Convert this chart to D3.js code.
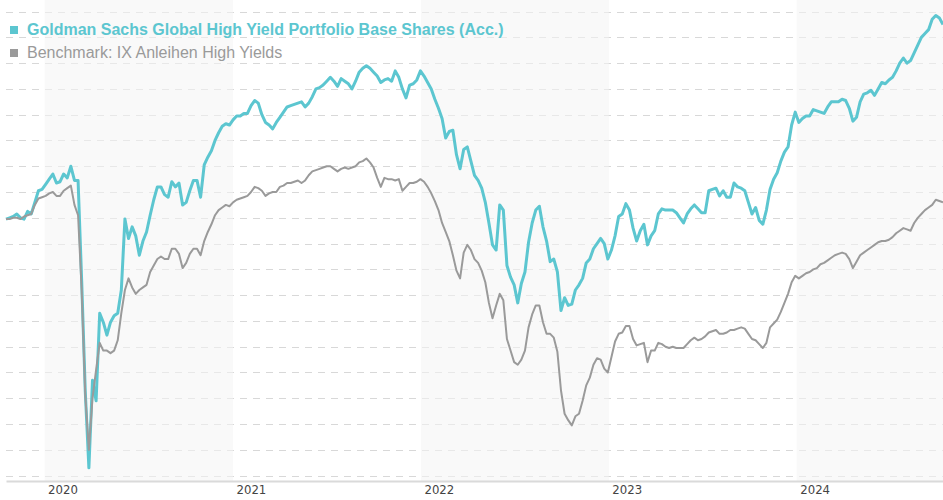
<!DOCTYPE html>
<html>
<head>
<meta charset="utf-8">
<script src="https://cdn.jsdelivr.net/npm/d3@7"></script>
<style>
  html, body { margin: 0; padding: 0; background: #fff; }
  svg { display: block; }
  .year-axis text { font-family: "DejaVu Sans Condensed", "DejaVu Sans", sans-serif; font-stretch: condensed; font-size: 13px; fill: #444; }
  .legend-text { font-family: "Liberation Sans", Arial, sans-serif; font-size: 16px; }
</style>
</head>
<body>
<svg id="chart"></svg>
<script>
// Weekly index values (Fridays), start = 100
const seriesNames = [
  'Goldman Sachs Global High Yield Portfolio Base Shares (Acc.)',
  'Benchmark: IX Anleihen High Yields'
];
const seriesColors = ['#5cc6d0', '#9a9a9a'];
const firstDate = '2019-10-18';
const lastDate = '2024-10-11';

const fundValues = [
  99.9, 100.0, 100.1, 100.3, 100.0, 99.9, 100.5, 100.3, 101.2, 102.1,
  102.2, 102.6, 103.0, 103.4, 102.7, 102.8, 103.4, 103.1, 104.0, 102.9,
  102.9, 95.1, 86.5, 80.6, 87.4, 85.8, 92.6, 91.9, 90.9, 91.9,
  92.4, 92.6, 94.4, 99.9, 98.4, 99.3, 98.6, 97.1, 98.2, 98.9,
  100.2, 101.4, 102.4, 102.4, 101.8, 101.6, 102.8, 102.4, 102.7, 101.0,
  101.2, 102.1, 102.9, 102.9, 101.6, 104.1, 104.7, 105.2, 106.0, 106.6,
  107.1, 107.3, 107.2, 107.6, 107.9, 107.9, 108.1, 108.1, 108.7, 109.1,
  108.9, 108.0, 107.4, 107.2, 106.9, 107.4, 107.8, 108.2, 108.6, 108.7,
  108.8, 108.9, 109.0, 108.6, 108.9, 109.4, 110.0, 110.1, 110.3, 110.6,
  110.9, 110.6, 110.2, 110.8, 110.6, 110.4, 110.0, 110.6, 111.3, 111.6,
  111.8, 111.6, 111.3, 111.0, 110.5, 110.7, 110.8, 110.6, 111.4, 110.9,
  110.0, 109.3, 110.3, 110.4, 110.7, 111.4, 111.0, 110.5, 110.0, 109.2,
  108.5, 107.7, 106.2, 106.7, 106.8, 104.9, 103.8, 105.3, 105.5, 104.4,
  103.3, 102.9, 102.3, 101.2, 99.6, 97.9, 97.5, 101.0, 100.6, 96.3,
  95.4, 94.8, 93.4, 94.9, 95.8, 98.1, 99.6, 100.6, 100.9, 99.3,
  98.2, 96.6, 96.8, 95.8, 92.8, 93.8, 93.2, 93.3, 94.4, 94.8,
  95.3, 96.5, 96.8, 97.6, 98.0, 98.4, 98.0, 96.8, 97.5, 98.6,
  100.1, 100.3, 101.1, 100.6, 99.2, 98.2, 99.0, 99.5, 97.9, 98.6,
  99.0, 100.3, 100.7, 100.6, 100.6, 100.6, 100.4, 100.0, 99.6, 100.3,
  100.7, 101.0, 100.7, 100.4, 100.4, 102.1, 102.2, 102.3, 101.7, 102.1,
  101.6, 101.6, 102.7, 102.4, 102.3, 102.1, 101.2, 100.3, 100.8, 99.8,
  99.5, 100.6, 102.2, 103.0, 103.5, 104.4, 105.1, 105.5, 107.2, 108.2,
  107.4, 107.7, 107.9, 107.9, 108.4, 108.3, 108.2, 108.1, 108.6, 109.0,
  109.0, 109.0, 109.2, 109.1, 108.5, 107.5, 107.8, 109.0, 109.6, 109.7,
  109.9, 109.5, 110.0, 110.5, 110.4, 110.7, 110.9, 111.4, 112.0, 112.4,
  112.0, 112.2, 112.8, 113.4, 114.0, 114.3, 114.6, 115.4, 115.7, 115.5,
  115.0
];

const benchmarkValues = [
  99.9, 99.9, 100.0, 100.0, 99.9, 100.1, 100.2, 100.3, 101.0, 101.5,
  101.6, 101.7, 101.9, 102.0, 101.7, 101.7, 102.1, 102.3, 102.5, 101.0,
  100.2, 94.4, 86.2, 82.0, 86.0, 88.2, 90.3, 89.7, 89.7, 89.5,
  89.7, 90.5, 92.6, 94.4, 95.3, 94.6, 94.1, 94.4, 94.6, 94.8,
  95.8, 96.3, 96.8, 97.0, 96.8, 96.8, 97.6, 97.6, 97.2, 96.1,
  96.5, 97.2, 97.6, 97.6, 97.1, 98.2, 98.9, 99.5, 100.2, 100.6,
  100.8, 101.0, 100.9, 101.2, 101.4, 101.5, 101.6, 101.7, 102.0, 102.4,
  102.3, 102.1, 101.7, 101.9, 102.0, 102.0, 102.4, 102.5, 102.7, 102.7,
  102.8, 102.9, 102.7, 102.9, 103.3, 103.6, 103.7, 103.8, 103.9, 104.0,
  104.0, 103.8, 103.6, 103.8, 103.9, 103.8, 103.9, 104.0, 104.3, 104.4,
  104.6, 104.3, 103.9, 103.1, 102.4, 103.1, 103.0, 103.0, 102.9, 103.0,
  102.1, 102.4, 102.7, 102.7, 102.8, 103.0, 102.8, 102.4, 101.9, 101.3,
  100.6, 99.6, 98.9, 98.2, 97.1, 95.9, 95.3, 97.3, 97.9, 97.5,
  96.8, 96.5, 95.9, 95.0, 93.4, 92.2, 93.2, 94.1, 93.6, 90.6,
  89.7, 88.8, 88.6, 89.0, 89.7, 91.5, 92.5, 93.2, 93.2, 91.9,
  91.0, 91.0, 90.7, 89.6, 86.6, 84.8, 84.3, 83.9, 84.6, 84.8,
  85.8, 87.0, 87.6, 88.6, 89.1, 89.0, 88.3, 88.0, 89.2, 90.4,
  91.0, 91.1, 91.6, 91.6, 90.6, 90.1, 90.2, 90.3, 88.8, 89.7,
  89.7, 90.3, 90.2, 90.0, 89.9, 90.0, 89.9, 89.9, 89.9, 90.2,
  90.5, 90.7, 90.5, 90.6, 90.8, 91.1, 91.2, 91.3, 91.0, 91.0,
  91.1, 91.3, 91.3, 91.4, 91.5, 91.4, 91.0, 90.6, 90.5, 90.2,
  89.9, 90.3, 91.5, 91.8, 92.1, 92.7, 93.4, 94.1, 95.0, 95.5,
  95.3, 95.5, 95.7, 95.8, 96.0, 96.1, 96.4, 96.5, 96.7, 96.9,
  97.1, 97.2, 97.3, 97.2, 96.8, 96.1, 96.6, 97.1, 97.3, 97.5,
  97.7, 97.9, 98.1, 98.2, 98.2, 98.3, 98.5, 98.8, 99.0, 99.2,
  99.1, 99.0, 99.6, 100.0, 100.3, 100.6, 100.8, 101.0, 101.4, 101.3,
  101.2
];

const yearTicks = [2020, 2021, 2022, 2023, 2024];
const shadedYears = [2020, 2022, 2024];
const gridValues = [80, 82, 84, 86, 88, 90, 92, 94, 96, 98, 100, 102, 104, 106, 108, 110, 112, 114, 116];

// Chart setup
const width = 943;
const height = 500;
const plot = { left: 6, right: 943, top: 0, bottom: 481 };

const parseDate = d3.timeParse('%Y-%m-%d');
const startDate = parseDate(firstDate);
const endDate = parseDate(lastDate);
const dates = d3.timeFriday.range(startDate, d3.timeDay.offset(endDate, 1));

const svg = d3.select('#chart')
  .attr('width', width)
  .attr('height', height);

const xScale = d3.scaleTime()
  .domain([startDate, endDate])
  .range([plot.left, plot.right]);

const yScale = d3.scaleLinear()
  .domain([79.58, 116.9])
  .range([plot.bottom, plot.top]);

// Dashed horizontal grid
svg.append('g')
  .selectAll('line')
  .data(gridValues)
  .join('line')
  .attr('x1', plot.left)
  .attr('x2', plot.right)
  .attr('y1', d => Math.round(yScale(d)) + 0.5)
  .attr('y2', d => Math.round(yScale(d)) + 0.5)
  .attr('stroke', '#d8d8d8')
  .attr('stroke-width', 1)
  .attr('stroke-dasharray', '7,6');

// Alternating year bands (semi-transparent, sit over the grid)
svg.append('g')
  .selectAll('rect')
  .data(shadedYears)
  .join('rect')
  .attr('x', d => xScale(new Date(d, 0, 1)))
  .attr('y', plot.top)
  .attr('width', d => Math.min(xScale(new Date(d + 1, 0, 1)), plot.right) - xScale(new Date(d, 0, 1)))
  .attr('height', plot.bottom - plot.top)
  .attr('fill', 'rgb(244,244,244)')
  .attr('fill-opacity', 0.56);

// Year axis
const xAxis = d3.axisBottom(xScale)
  .tickValues(yearTicks.map(yr => new Date(yr, 0, 1)))
  .tickFormat(d3.timeFormat('%Y'))
  .tickSize(0)
  .tickSizeOuter(0);

const axisGroup = svg.append('g')
  .attr('class', 'year-axis')
  .attr('transform', `translate(0, ${plot.bottom})`)
  .call(xAxis);

axisGroup.select('.domain')
  .attr('stroke', '#dadada')
  .attr('stroke-width', 2);

axisGroup.selectAll('text')
  .attr('text-anchor', 'start')
  .attr('x', 3)
  .attr('y', 13)
  .attr('dy', 0);

// Lines
const line = d3.line()
  .x((d, i) => xScale(dates[i]))
  .y(d => yScale(d));

svg.append('path')
  .datum(fundValues)
  .attr('fill', 'none')
  .attr('stroke', seriesColors[0])
  .attr('stroke-width', 3)
  .attr('stroke-linejoin', 'round')
  .attr('d', line);

svg.append('path')
  .datum(benchmarkValues)
  .attr('fill', 'none')
  .attr('stroke', seriesColors[1])
  .attr('stroke-width', 2)
  .attr('stroke-linejoin', 'round')
  .attr('d', line);

// Legend
const legend = svg.append('g')
  .selectAll('g')
  .data(seriesNames)
  .join('g')
  .attr('transform', (d, i) => `translate(10, ${26 + i * 23})`);

legend.append('rect')
  .attr('width', 8)
  .attr('height', 8)
  .attr('fill', (d, i) => seriesColors[i]);

legend.append('text')
  .attr('class', 'legend-text')
  .attr('x', 17)
  .attr('y', 9)
  .attr('font-weight', (d, i) => i === 0 ? 'bold' : 'normal')
  .attr('fill', (d, i) => seriesColors[i])
  .text(d => d);
</script>
</body>
</html>
